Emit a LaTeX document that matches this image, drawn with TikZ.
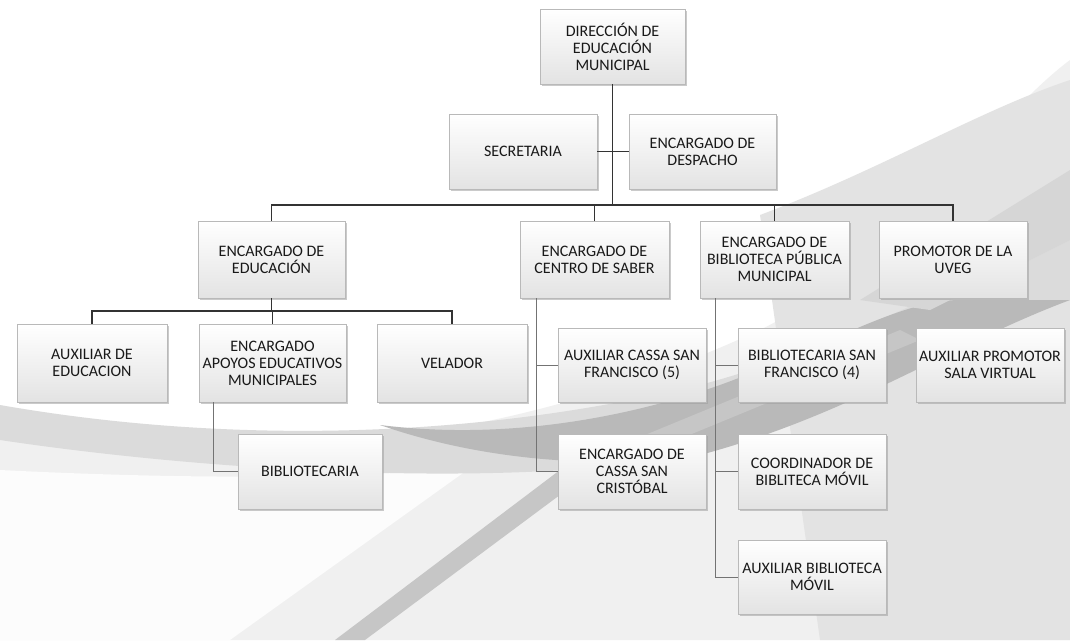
\documentclass[tikz,border=0pt]{standalone}
\usepackage{fontspec}
\setmainfont{Carlito}
\usetikzlibrary{shadows}
\begin{document}
\begin{tikzpicture}[x=1pt,y=-1pt]
\tikzset{
  box/.style={draw=gray!55, line width=0.6pt, top color=white, bottom color=gray!22,
    drop shadow={shadow xshift=1.6pt, shadow yshift=-1.6pt, opacity=0.55, fill=gray!75},
    align=center, font=\fontsize{16}{17}\selectfont, text=black!90, inner sep=1pt},
  link/.style={draw=black!80, line width=1.2pt},
  thinlink/.style={draw=black!55, line width=0.8pt},
  bg/.style={draw=none}
}
\useasboundingbox (0,0) rectangle (1070,640);
\fill[white] (0,0) rectangle (1070,640);
% background swoosh
\fill[bg, gray!12] (0,420) .. controls (250,470) and (500,450) .. (760,330) .. controls (900,260) and (990,120) .. (1070,60) -- (1070,640) -- (0,640) -- cycle;
\fill[bg, gray!22] (760,215) .. controls (880,170) and (980,110) .. (1070,80) -- (1070,640) -- (820,640) -- cycle;
\fill[bg, white, opacity=0.8] (0,470) .. controls (200,480) and (350,478) .. (470,468) -- (230,640) -- (0,640) -- cycle;
\fill[bg, gray!28] (0,405) .. controls (200,440) and (450,445) .. (700,385) .. controls (850,345) and (950,280) .. (1070,240) -- (1070,300) .. controls (950,340) and (850,410) .. (700,455) .. controls (500,490) and (200,470) .. (0,440) -- cycle;
\fill[bg, gray!55] (380,425) .. controls (500,440) and (620,420) .. (720,385) .. controls (830,345) and (900,300) .. (960,300) -- (1070,300) .. controls (950,345) and (850,415) .. (700,455) .. controls (600,470) and (480,460) .. (380,425) -- cycle;
\fill[bg, gray!45] (335,640) -- (560,470) -- (900,330) -- (920,340) -- (580,480) -- (365,640) -- cycle;
\fill[bg, gray!32] (860,300) -- (1070,170) -- (1070,240) -- (930,310) -- cycle;

% nodes
\node[box, minimum width=145pt, minimum height=75pt] (dir) at (612.5,46.5) {DIRECCIÓN DE\\EDUCACIÓN\\MUNICIPAL};
\node[box, minimum width=148pt, minimum height=75pt] (sec) at (523,151.5) {SECRETARIA};
\node[box, minimum width=147pt, minimum height=75pt] (desp) at (702.5,151.5) {ENCARGADO DE\\DESPACHO};
\node[box, minimum width=147pt, minimum height=77pt] (edu) at (271.5,259.5) {ENCARGADO DE\\EDUCACIÓN};
\node[box, minimum width=149pt, minimum height=77pt] (centro) at (594.5,259.5) {ENCARGADO DE\\CENTRO DE SABER};
\node[box, minimum width=149pt, minimum height=77pt] (bib) at (774.5,259.5) {ENCARGADO DE\\BIBLIOTECA PÚBLICA\\MUNICIPAL};
\node[box, minimum width=148pt, minimum height=77pt] (prom) at (953,259.5) {PROMOTOR DE LA\\UVEG};
\node[box, minimum width=150pt, minimum height=78pt] (auxedu) at (92,363) {AUXILIAR DE\\EDUCACION};
\node[box, minimum width=147pt, minimum height=78pt] (apoyos) at (272.5,363) {ENCARGADO\\APOYOS EDUCATIVOS\\MUNICIPALES};
\node[box, minimum width=150pt, minimum height=78pt] (velador) at (452,363) {VELADOR};
\node[box, minimum width=144pt, minimum height=75pt] (bibliotecaria) at (310,471.5) {BIBLIOTECARIA};
\node[box, minimum width=148pt, minimum height=74pt] (auxcassa) at (632,365) {AUXILIAR CASSA SAN\\FRANCISCO (5)};
\node[box, minimum width=148pt, minimum height=74pt] (bibsf) at (812,365) {BIBLIOTECARIA SAN\\FRANCISCO (4)};
\node[box, minimum width=148pt, minimum height=74pt] (auxprom) at (990,365) {AUXILIAR PROMOTOR\\SALA VIRTUAL};
\node[box, minimum width=148pt, minimum height=75pt] (enccassa) at (632,471.5) {ENCARGADO DE\\CASSA SAN\\CRISTÓBAL};
\node[box, minimum width=148pt, minimum height=75pt] (coord) at (812,471.5) {COORDINADOR DE\\BIBLITECA MÓVIL};
\node[box, minimum width=148pt, minimum height=74pt] (auxmovil) at (812,577) {AUXILIAR BIBLIOTECA\\MÓVIL};

% connectors
\coordinate (bar) at (612.5,205);
\coordinate (bar2) at (0,311);
\coordinate (cv) at (536,0);
\coordinate (bv) at (715,0);
\coordinate (av) at (213,0);
\draw[link] (dir.south) -- (bar);
\draw[link] (sec.east) -- (desp.west);
\draw[link] (edu.north) |- (bar) -| (prom.north);
\draw[link] (centro.north) -- (centro.north |- bar);
\draw[link] (bib.north) -- (bib.north |- bar);
\draw[link] (edu.south) -- (edu.south |- bar2);
\draw[link] (auxedu.north) |- (bar2 -| velador.north) -- (velador.north);
\draw[link] (apoyos.north) -- (apoyos.north |- bar2);
\draw[thinlink] (apoyos.south -| av) |- (bibliotecaria.west);
\draw[thinlink] (centro.south -| cv) |- (enccassa.west);
\draw[thinlink] (auxcassa.west) -- (auxcassa.west -| cv);
\draw[thinlink] (bib.south -| bv) |- (auxmovil.west);
\draw[thinlink] (bibsf.west) -- (bibsf.west -| bv);
\draw[thinlink] (coord.west) -- (coord.west -| bv);
\end{tikzpicture}
\end{document}
